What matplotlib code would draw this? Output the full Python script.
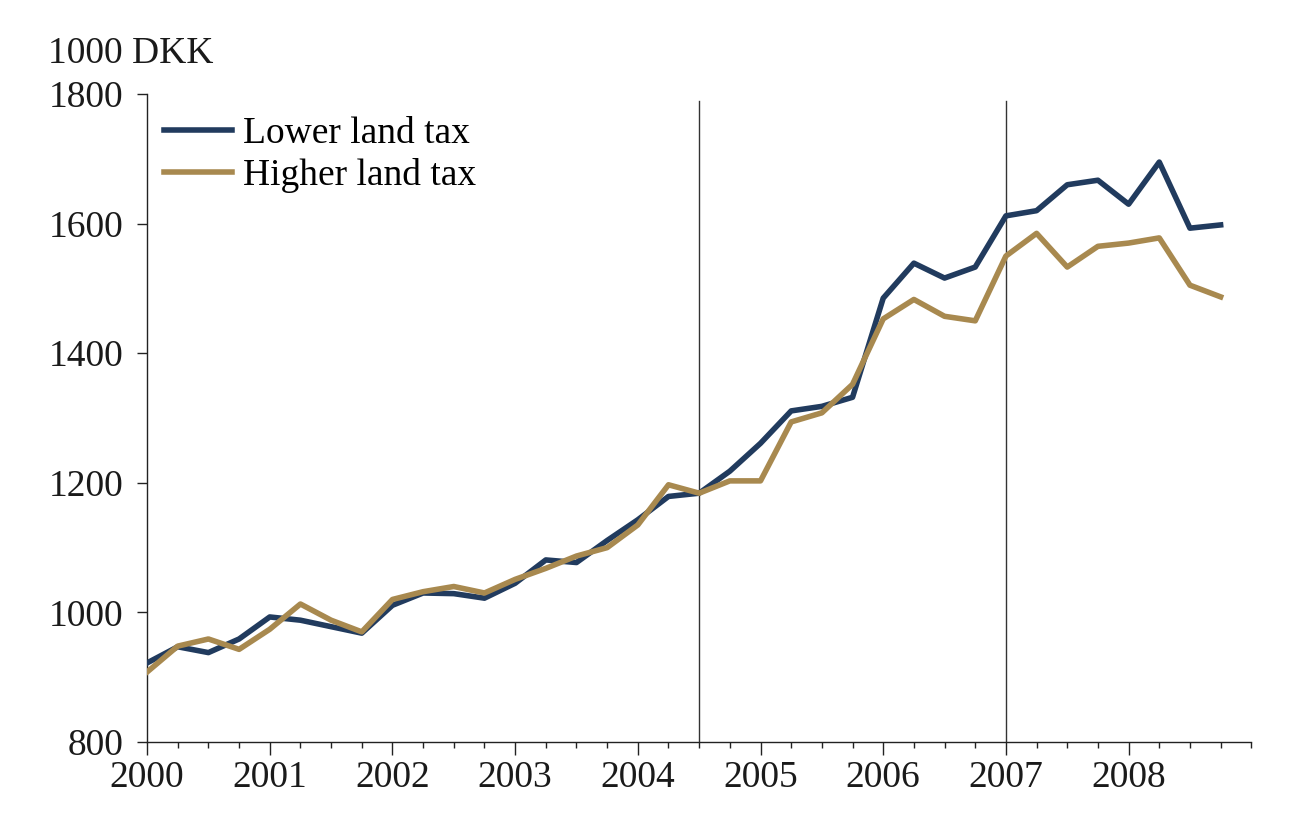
import numpy as np
import matplotlib
matplotlib.use("Agg")
import matplotlib.pyplot as plt
from matplotlib.ticker import MultipleLocator

# quarterly observations, 2000Q1 - 2008Q4
quarters = np.arange(2000, 2009, 0.25)

lower_tax = [922, 947, 938, 959, 993, 988, 978, 968,
             1011, 1030, 1029, 1022, 1045, 1081, 1077, 1111,
             1143, 1179, 1184, 1218, 1261, 1311, 1318, 1332,
             1485, 1539, 1516, 1533, 1612, 1620, 1660, 1667,
             1630, 1695, 1593, 1598]
higher_tax = [908, 948, 959, 943, 974, 1013, 988, 970,
              1020, 1032, 1040, 1030, 1051, 1068, 1087, 1100,
              1135, 1197, 1184, 1203, 1203, 1294, 1308, 1352,
              1453, 1483, 1457, 1450, 1550, 1585, 1533, 1565,
              1570, 1578, 1505, 1487]
event_dates = [2004.5, 2007.0]

navy = "#213b5e"
gold = "#a8894f"

plt.rcParams["font.family"] = ["Liberation Serif", "DejaVu Serif"]
plt.rcParams["font.size"] = 27

fig = plt.figure(figsize=(13.13, 8.22), dpi=100)
ax = fig.add_axes([0.112, 0.0973, 0.841, 0.7883])

for d in event_dates:
    ax.axvline(d, ymin=0, ymax=0.99, color="#333333", lw=1.0, zorder=1)

ax.plot(quarters, lower_tax, color=navy, lw=4.0, label="Lower land tax", zorder=3)
ax.plot(quarters, higher_tax, color=gold, lw=4.0, label="Higher land tax", zorder=4)

ax.set_xlim(2000, 2009)
ax.set_ylim(800, 1800)
ax.set_xticks(range(2000, 2009))
ax.xaxis.set_minor_locator(MultipleLocator(0.25))
ax.set_yticks(range(800, 1801, 200))

for s in ["top", "right"]:
    ax.spines[s].set_visible(False)
for s in ["left", "bottom"]:
    ax.spines[s].set_linewidth(1.0)
    ax.spines[s].set_color("#222222")

ax.tick_params(axis="x", which="major", direction="out", length=9, width=1, pad=4, colors="#222222")
ax.tick_params(axis="x", which="minor", direction="out", length=4, width=1, colors="#222222")
ax.tick_params(axis="y", which="major", direction="out", length=7, width=1, pad=10, colors="#222222")
ax.tick_params(labelcolor="#1a1a1a")

leg = ax.legend(loc="upper left", bbox_to_anchor=(-0.008, 1.006), frameon=False,
                handlelength=1.8, handletextpad=0.3, labelspacing=0.2,
                borderaxespad=0.3)

fig.text(48 / 1313, 1 - 63 / 822, "1000 DKK", ha="left", va="baseline",
         color="#1a1a1a")

fig.savefig("out.png", dpi=100)
